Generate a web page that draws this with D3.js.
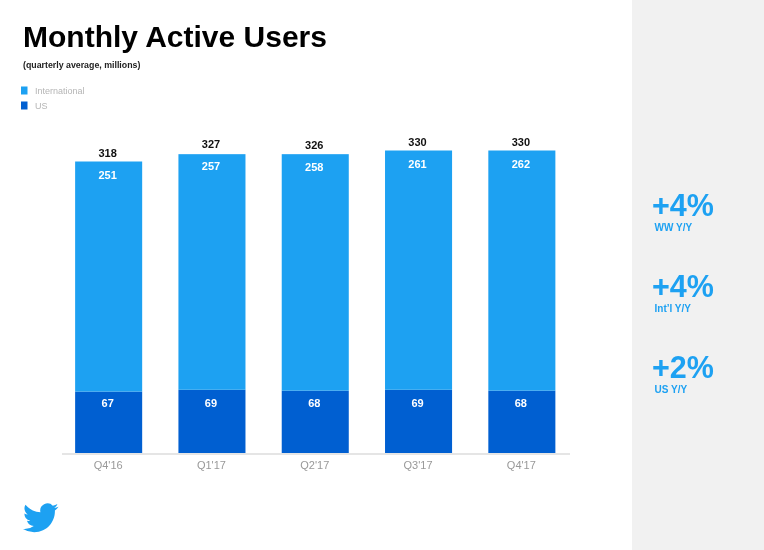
<!DOCTYPE html>
<html><head><meta charset="utf-8">
<script src="https://cdn.jsdelivr.net/npm/d3@7"></script>
<style>html,body{margin:0;padding:0;background:#fff}svg{display:block;filter:blur(0.35px)}text{font-family:"Liberation Sans",Arial,sans-serif}</style>
</head><body><svg id="c" width="764" height="550"></svg>
<script>
const quarters=["Q4'16","Q1'17","Q2'17","Q3'17","Q4'17"];
const usValues=[67,69,68,69,68];
const intlValues=[251,257,258,261,262];
const totals=[318,327,326,330,330];
const legendLabels=["International","US"];
const statValues=["+4%","+4%","+2%"];
const statLabels=["WW Y/Y","Int’l Y/Y","US Y/Y"];
const blue="#1da1f2",dark="#005fd1";

const svg=d3.select("#c");
svg.append("rect").attr("x",632).attr("y",0).attr("width",132).attr("height",550).attr("fill","#f1f1f1");

const x=d3.scaleBand().domain(quarters).range([57,573.5]).paddingInner(0.351).paddingOuter(0.1755);
const y=d3.scaleLinear().domain([0,330]).range([453,150.5]);

const rows=quarters.map((q,i)=>({q,us:usValues[i],intl:intlValues[i],total:totals[i]}));
const stacked=d3.stack().keys(["us","intl"])(rows);
const cols={us:dark,intl:blue};
svg.selectAll("g.s").data(stacked).join("g").attr("fill",d=>cols[d.key])
  .selectAll("rect").data(d=>d).join("rect")
  .attr("x",d=>x(d.data.q)).attr("width",x.bandwidth())
  .attr("y",d=>y(d[1])).attr("height",d=>y(d[0])-y(d[1]));

// value labels
rows.forEach(d=>{
  const cx=x(d.q)+x.bandwidth()/2-1;
  const lab=(t,yy,fill)=>svg.append("text").attr("x",cx).attr("y",yy).attr("text-anchor","middle")
    .attr("font-size",11).attr("font-weight","bold").attr("fill",fill).text(t);
  lab(d.total,y(d.total)-5,"#111");
  lab(d.intl,y(d.total)+17,"#fff");
  lab(d.us,407,"#fff");
});

// axis
const ax=svg.append("g").attr("transform","translate(0,454)").call(d3.axisBottom(x).tickSize(0).tickPadding(7));
ax.select(".domain").attr("stroke","#dcdcdc").attr("stroke-width",1.5).attr("d","M62,0H570");
ax.selectAll("text").attr("font-size",11).attr("fill","#999").attr("dx",-0.5).attr("font-family","'Liberation Sans',Arial,sans-serif");

// title
svg.append("text").attr("x",23).attr("y",47).attr("font-size",30).attr("font-weight","bold").attr("fill","#000").text("Monthly Active Users");
svg.append("text").attr("x",23).attr("y",68).attr("font-size",8.8).attr("font-weight","bold").attr("fill","#222").text("(quarterly average, millions)");

// legend
legendLabels.forEach((t,i)=>{
  const yy=86.5+i*15;
  svg.append("rect").attr("x",21).attr("y",yy).attr("width",6.5).attr("height",8).attr("fill",i?dark:blue);
  svg.append("text").attr("x",35).attr("y",yy+7).attr("font-size",9).attr("fill","#b5b5b5").text(t);
});

// right panel stats
statValues.forEach((t,i)=>{
  const base=[216,297,378][i];
  svg.append("text").attr("x",652).attr("y",base).attr("font-size",30.5).attr("font-weight","bold").attr("fill",blue).text(t);
  svg.append("text").attr("x",654.5).attr("y",base+14.5).attr("font-size",10).attr("font-weight","bold").attr("fill",blue).text(statLabels[i]);
});

// bird
svg.append("path").attr("transform","translate(23,500) scale(1.48)").attr("fill",blue)
 .attr("d","M23.953 4.57a10 10 0 01-2.825.775 4.958 4.958 0 002.163-2.723c-.951.555-2.005.959-3.127 1.184a4.92 4.92 0 00-8.384 4.482C7.69 8.095 4.067 6.13 1.64 3.162a4.822 4.822 0 00-.666 2.475c0 1.71.87 3.213 2.188 4.096a4.904 4.904 0 01-2.228-.616v.06a4.923 4.923 0 003.946 4.827 4.996 4.996 0 01-2.212.085 4.936 4.936 0 004.604 3.417 9.867 9.867 0 01-6.102 2.105c-.39 0-.779-.023-1.17-.067a13.995 13.995 0 007.557 2.209c9.053 0 13.998-7.496 13.998-13.985 0-.21 0-.42-.015-.63A9.935 9.935 0 0024 4.59z");
</script></body></html>
